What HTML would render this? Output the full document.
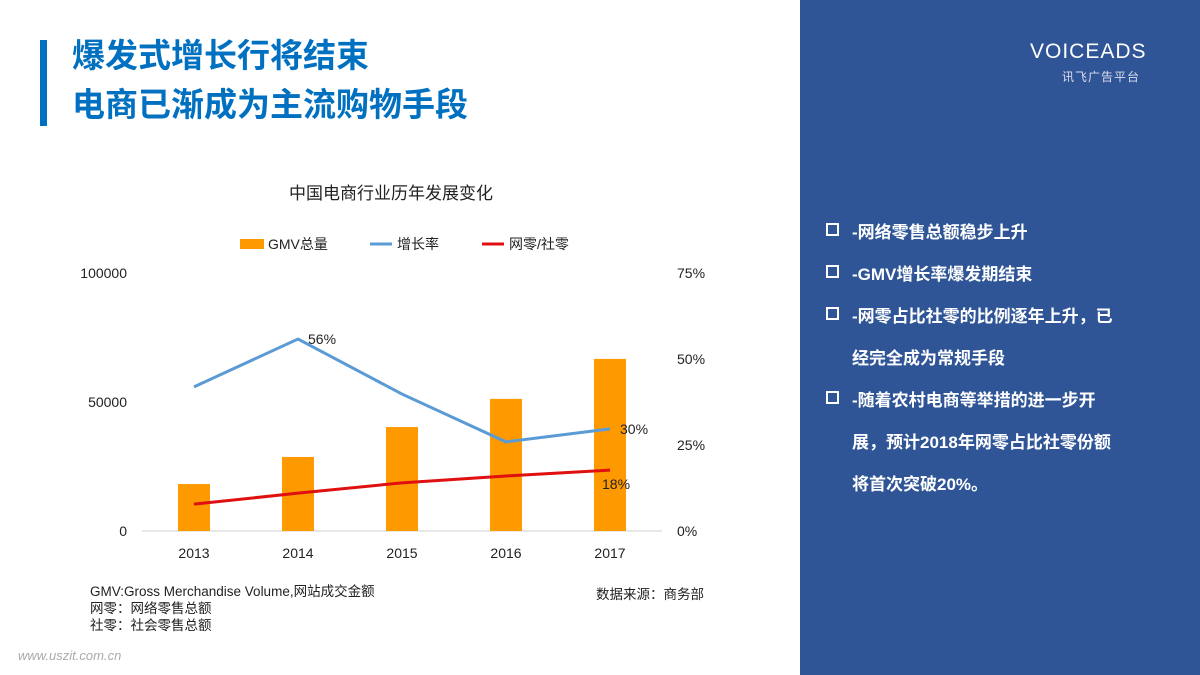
<!DOCTYPE html>
<html><head><meta charset="utf-8"><style>
body{margin:0;width:1200px;height:675px;position:relative;background:#fff;font-family:"Liberation Sans","Noto Sans CJK SC",sans-serif;overflow:hidden}
.abs{position:absolute}
.t{color:#0070c0;font-weight:bold;font-size:33px;left:72px;white-space:nowrap;line-height:40px}
.b{color:#fff;font-weight:bold;font-size:17px;white-space:nowrap;left:852px}
.sq{position:absolute;left:826px;width:9px;height:9px;border:2px solid #fff}
</style></head><body>
<div class="abs" style="left:40px;top:40px;width:7px;height:86px;background:#0070c0"></div>
<div class="abs t" style="top:36px">爆发式增长行将结束</div>
<div class="abs t" style="top:85px">电商已渐成为主流购物手段</div>
<div class="abs" style="left:800px;top:0;width:400px;height:675px;background:#2f5597"></div>
<div class="abs" style="left:1030px;top:40px;color:#fff;font-size:21px;letter-spacing:1px">VOICEADS</div>
<div class="abs" style="left:1062px;top:68px;color:#dde;font-size:12px;letter-spacing:1px">讯飞广告平台</div>
<div class="sq" style="top:223px"></div>
<div class="abs b" style="top:218px">-网络零售总额稳步上升</div>
<div class="sq" style="top:265px"></div>
<div class="abs b" style="top:260px">-GMV增长率爆发期结束</div>
<div class="sq" style="top:307px"></div>
<div class="abs b" style="top:302px">-网零占比社零的比例逐年上升，已</div>
<div class="abs b" style="top:344px">经完全成为常规手段</div>
<div class="sq" style="top:391px"></div>
<div class="abs b" style="top:386px">-随着农村电商等举措的进一步开</div>
<div class="abs b" style="top:428px">展，预计2018年网零占比社零份额</div>
<div class="abs b" style="top:470px">将首次突破20%。</div>
<div class="abs" style="left:90px;top:583px;font-size:13.5px;line-height:17px;color:#222">GMV:Gross Merchandise Volume,网站成交金额<br>网零：网络零售总额<br>社零：社会零售总额</div>
<div class="abs" style="left:596px;top:583px;font-size:13.5px;color:#222">数据来源：商务部</div>
<div class="abs" style="left:18px;top:648px;font-size:13px;color:#aaa;font-style:italic">www.uszit.com.cn</div>
<svg class="abs" style="left:0;top:0" width="800" height="675" id="chart"></svg>
<script>
const categories=["2013","2014","2015","2016","2017"];
const gmv=[18200,28700,40300,51200,66700];
const growth=[41.9,55.8,39.8,25.9,29.7];
const ratio=[7.8,11,14,16,17.7];
const leftTicks=[0,50000,100000];
const rightTicks=[0,25,50,75];
const ns="http://www.w3.org/2000/svg",svg=document.getElementById("chart");
const x0=142,step=104,y0=531,H=258;
const xs=i=>x0+step*(i+0.5);
const yl=v=>y0-v/100000*H;
const yr=v=>y0-v/75*H;
function mk(t,a,txt){const e=document.createElementNS(ns,t);for(const k in a)e.setAttribute(k,a[k]);if(txt!=null)e.textContent=txt;svg.appendChild(e);return e;}
let e=mk("text",{x:391,y:199,"text-anchor":"middle","font-size":17,fill:"#222"},"中国电商行业历年发展变化");


e=mk("line",{x1:x0,x2:x0+step*5,y1:y0,y2:y0,stroke:"#d0d0d0"});


leftTicks.forEach(v=>{const t=mk("text",{x:127,y:yl(v)+5,"text-anchor":"end","font-size":14,fill:"#222"},v);

});
rightTicks.forEach(v=>{const t=mk("text",{x:677,y:yr(v)+5,"font-size":14,fill:"#222"},v+"%");

});
categories.forEach((c,i)=>{const t=mk("text",{x:xs(i),y:558,"text-anchor":"middle","font-size":14,fill:"#222"},c);


const b=mk("rect",{x:xs(i)-16,y:yl(gmv[i]),width:32,height:y0-yl(gmv[i]),fill:"#ff9900"});

});
e=mk("polyline",{points:growth.map((v,i)=>xs(i)+","+yr(v)).join(" "),fill:"none",stroke:"#5b9bd5","stroke-width":3});


e=mk("polyline",{points:ratio.map((v,i)=>xs(i)+","+yr(v)).join(" "),fill:"none",stroke:"#e01010","stroke-width":3});


e=mk("text",{x:xs(1)+10,y:yr(growth[1])+5,"font-size":14,fill:"#222"},Math.round(growth[1])+"%");


e=mk("text",{x:xs(4)+10,y:yr(growth[4])+5,"font-size":14,fill:"#222"},Math.round(growth[4])+"%");


e=mk("text",{x:xs(4)-8,y:yr(ratio[4])+19,"font-size":14,fill:"#222"},Math.round(ratio[4])+"%");


e=mk("rect",{x:240,y:239,width:24,height:10,fill:"#ff9900"});


e=mk("text",{x:268,y:249,"font-size":14,fill:"#222"},"GMV总量");


e=mk("line",{x1:370,x2:392,y1:244,y2:244,stroke:"#5b9bd5","stroke-width":3});


e=mk("text",{x:397,y:249,"font-size":14,fill:"#222"},"增长率");


e=mk("line",{x1:482,x2:504,y1:244,y2:244,stroke:"#e01010","stroke-width":3});


e=mk("text",{x:509,y:249,"font-size":14,fill:"#222"},"网零/社零");


</script>
</body></html>
